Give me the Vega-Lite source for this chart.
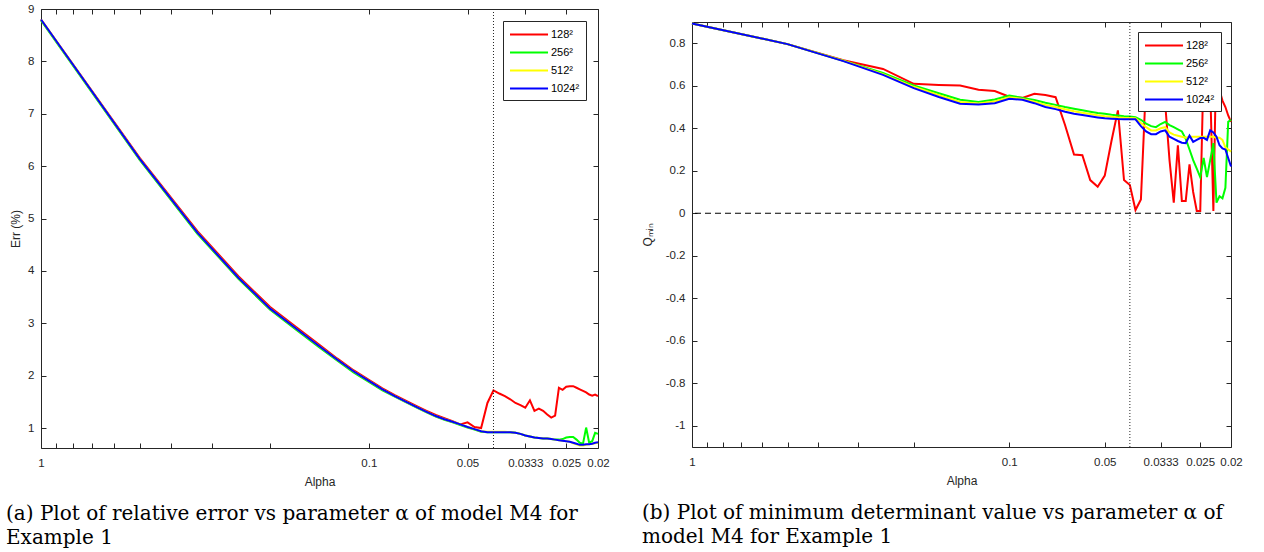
{
  "$schema": "https://vega.github.io/schema/vega-lite/v6.json",
  "background": "white",
  "padding": {"left": 5, "top": 2, "right": 5, "bottom": 0},
  "spacing": 30,
  "datasets": {
    "err": [
      {"alpha": 1, "128²": 8.80, "256²": 8.78, "512²": 8.80, "1024²": 8.80},
      {"alpha": 0.5, "128²": 6.16, "256²": 6.12, "512²": 6.14, "1024²": 6.14},
      {"alpha": 0.33333, "128²": 4.76, "256²": 4.71, "512²": 4.73, "1024²": 4.73},
      {"alpha": 0.25, "128²": 3.90, "256²": 3.85, "512²": 3.87, "1024²": 3.87},
      {"alpha": 0.2, "128²": 3.31, "256²": 3.26, "512²": 3.28, "1024²": 3.28},
      {"alpha": 0.16667, "128²": 2.93, "256²": 2.88, "512²": 2.90, "1024²": 2.90},
      {"alpha": 0.14286, "128²": 2.61, "256²": 2.56, "512²": 2.58, "1024²": 2.58},
      {"alpha": 0.125, "128²": 2.33, "256²": 2.29, "512²": 2.31, "1024²": 2.31},
      {"alpha": 0.11111, "128²": 2.10, "256²": 2.06, "512²": 2.08, "1024²": 2.08},
      {"alpha": 0.1, "128²": 1.92, "256²": 1.88, "512²": 1.90, "1024²": 1.90},
      {"alpha": 0.09091, "128²": 1.76, "256²": 1.72, "512²": 1.74, "1024²": 1.74},
      {"alpha": 0.08333, "128²": 1.63, "256²": 1.60, "512²": 1.61, "1024²": 1.61},
      {"alpha": 0.07692, "128²": 1.52, "256²": 1.49, "512²": 1.50, "1024²": 1.50},
      {"alpha": 0.07143, "128²": 1.42, "256²": 1.39, "512²": 1.40, "1024²": 1.40},
      {"alpha": 0.06667, "128²": 1.33, "256²": 1.30, "512²": 1.31, "1024²": 1.31},
      {"alpha": 0.0625, "128²": 1.25, "256²": 1.22, "512²": 1.23, "1024²": 1.23},
      {"alpha": 0.05882, "128²": 1.19, "256²": 1.16, "512²": 1.17, "1024²": 1.17},
      {"alpha": 0.05556, "128²": 1.13, "256²": 1.11, "512²": 1.12, "1024²": 1.12},
      {"alpha": 0.05263, "128²": 1.07, "256²": 1.06, "512²": 1.07, "1024²": 1.07},
      {"alpha": 0.05, "128²": 1.11, "256²": 1.01, "512²": 1.02, "1024²": 1.02},
      {"alpha": 0.04762, "128²": 1.02, "256²": 0.97, "512²": 0.98, "1024²": 0.98},
      {"alpha": 0.04545, "128²": 1.00, "256²": 0.93, "512²": 0.94, "1024²": 0.94},
      {"alpha": 0.04348, "128²": 1.48, "256²": 0.92, "512²": 0.93, "1024²": 0.92},
      {"alpha": 0.04167, "128²": 1.72, "256²": 0.92, "512²": 0.93, "1024²": 0.92},
      {"alpha": 0.04, "128²": 1.66, "256²": 0.92, "512²": 0.93, "1024²": 0.92},
      {"alpha": 0.03846, "128²": 1.61, "256²": 0.92, "512²": 0.93, "1024²": 0.92},
      {"alpha": 0.03704, "128²": 1.55, "256²": 0.92, "512²": 0.92, "1024²": 0.92},
      {"alpha": 0.03571, "128²": 1.48, "256²": 0.91, "512²": 0.91, "1024²": 0.91},
      {"alpha": 0.03448, "128²": 1.44, "256²": 0.89, "512²": 0.89, "1024²": 0.89},
      {"alpha": 0.03333, "128²": 1.39, "256²": 0.86, "512²": 0.86, "1024²": 0.86},
      {"alpha": 0.03226, "128²": 1.53, "256²": 0.84, "512²": 0.84, "1024²": 0.84},
      {"alpha": 0.03125, "128²": 1.33, "256²": 0.82, "512²": 0.82, "1024²": 0.82},
      {"alpha": 0.0303, "128²": 1.37, "256²": 0.81, "512²": 0.81, "1024²": 0.81},
      {"alpha": 0.02941, "128²": 1.33, "256²": 0.80, "512²": 0.80, "1024²": 0.80},
      {"alpha": 0.02857, "128²": 1.26, "256²": 0.80, "512²": 0.80, "1024²": 0.80},
      {"alpha": 0.02778, "128²": 1.20, "256²": 0.79, "512²": 0.79, "1024²": 0.79},
      {"alpha": 0.02703, "128²": 1.24, "256²": 0.78, "512²": 0.78, "1024²": 0.78},
      {"alpha": 0.02632, "128²": 1.77, "256²": 0.78, "512²": 0.77, "1024²": 0.77},
      {"alpha": 0.02564, "128²": 1.73, "256²": 0.79, "512²": 0.76, "1024²": 0.76},
      {"alpha": 0.025, "128²": 1.79, "256²": 0.82, "512²": 0.75, "1024²": 0.75},
      {"alpha": 0.02439, "128²": 1.80, "256²": 0.83, "512²": 0.74, "1024²": 0.74},
      {"alpha": 0.02381, "128²": 1.80, "256²": 0.83, "512²": 0.71, "1024²": 0.72},
      {"alpha": 0.02326, "128²": 1.77, "256²": 0.78, "512²": 0.69, "1024²": 0.70},
      {"alpha": 0.02273, "128²": 1.74, "256²": 0.72, "512²": 0.67, "1024²": 0.68},
      {"alpha": 0.02222, "128²": 1.71, "256²": 0.70, "512²": 0.67, "1024²": 0.68},
      {"alpha": 0.02174, "128²": 1.68, "256²": 1.01, "512²": 0.68, "1024²": 0.69},
      {"alpha": 0.02128, "128²": 1.64, "256²": 0.72, "512²": 0.69, "1024²": 0.69},
      {"alpha": 0.02083, "128²": 1.62, "256²": 0.75, "512²": 0.70, "1024²": 0.70},
      {"alpha": 0.02041, "128²": 1.64, "256²": 0.91, "512²": 0.71, "1024²": 0.72},
      {"alpha": 0.02, "128²": 1.61, "256²": 0.89, "512²": 0.72, "1024²": 0.73}
    ],
    "qmin": [
      {"alpha": 1, "128²": 0.893, "256²": 0.893, "512²": 0.893, "1024²": 0.893},
      {"alpha": 0.5, "128²": 0.796, "256²": 0.796, "512²": 0.796, "1024²": 0.796},
      {"alpha": 0.33333, "128²": 0.720, "256²": 0.718, "512²": 0.718, "1024²": 0.716},
      {"alpha": 0.25, "128²": 0.679, "256²": 0.660, "512²": 0.655, "1024²": 0.651},
      {"alpha": 0.2, "128²": 0.609, "256²": 0.601, "512²": 0.595, "1024²": 0.589},
      {"alpha": 0.16667, "128²": 0.604, "256²": 0.565, "512²": 0.556, "1024²": 0.547},
      {"alpha": 0.14286, "128²": 0.601, "256²": 0.534, "512²": 0.524, "1024²": 0.515},
      {"alpha": 0.125, "128²": 0.581, "256²": 0.523, "512²": 0.517, "1024²": 0.512},
      {"alpha": 0.11111, "128²": 0.575, "256²": 0.535, "512²": 0.526, "1024²": 0.518},
      {"alpha": 0.1, "128²": 0.548, "256²": 0.554, "512²": 0.546, "1024²": 0.539},
      {"alpha": 0.09091, "128²": 0.543, "256²": 0.543, "512²": 0.538, "1024²": 0.534},
      {"alpha": 0.08333, "128²": 0.562, "256²": 0.533, "512²": 0.525, "1024²": 0.518},
      {"alpha": 0.07692, "128²": 0.556, "256²": 0.520, "512²": 0.510, "1024²": 0.500},
      {"alpha": 0.07143, "128²": 0.546, "256²": 0.510, "512²": 0.500, "1024²": 0.490},
      {"alpha": 0.06667, "128²": 0.414, "256²": 0.500, "512²": 0.489, "1024²": 0.478},
      {"alpha": 0.0625, "128²": 0.276, "256²": 0.492, "512²": 0.480, "1024²": 0.468},
      {"alpha": 0.05882, "128²": 0.273, "256²": 0.485, "512²": 0.473, "1024²": 0.462},
      {"alpha": 0.05556, "128²": 0.156, "256²": 0.478, "512²": 0.467, "1024²": 0.456},
      {"alpha": 0.05263, "128²": 0.125, "256²": 0.472, "512²": 0.461, "1024²": 0.451},
      {"alpha": 0.05, "128²": 0.177, "256²": 0.468, "512²": 0.457, "1024²": 0.447},
      {"alpha": 0.04762, "128²": 0.340, "256²": 0.463, "512²": 0.454, "1024²": 0.445},
      {"alpha": 0.04545, "128²": 0.484, "256²": 0.460, "512²": 0.451, "1024²": 0.443},
      {"alpha": 0.04348, "128²": 0.156, "256²": 0.457, "512²": 0.449, "1024²": 0.442},
      {"alpha": 0.04167, "128²": 0.133, "256²": 0.455, "512²": 0.448, "1024²": 0.442},
      {"alpha": 0.04, "128²": 0.015, "256²": 0.452, "512²": 0.447, "1024²": 0.442},
      {"alpha": 0.03846, "128²": 0.065, "256²": 0.440, "512²": 0.425, "1024²": 0.410},
      {"alpha": 0.03704, "128²": 0.62, "256²": 0.422, "512²": 0.405, "1024²": 0.385},
      {"alpha": 0.03571, "128²": 0.70, "256²": 0.410, "512²": 0.390, "1024²": 0.372},
      {"alpha": 0.03448, "128²": 0.65, "256²": 0.405, "512²": 0.390, "1024²": 0.372},
      {"alpha": 0.03333, "128²": 0.58, "256²": 0.420, "512²": 0.400, "1024²": 0.385},
      {"alpha": 0.03226, "128²": 0.52, "256²": 0.430, "512²": 0.405, "1024²": 0.390},
      {"alpha": 0.03125, "128²": 0.25, "256²": 0.415, "512²": 0.380, "1024²": 0.360},
      {"alpha": 0.0303, "128²": 0.05, "256²": 0.405, "512²": 0.370, "1024²": 0.350},
      {"alpha": 0.02941, "128²": 0.32, "256²": 0.395, "512²": 0.365, "1024²": 0.340},
      {"alpha": 0.02857, "128²": 0.058, "256²": 0.385, "512²": 0.360, "1024²": 0.332},
      {"alpha": 0.02778, "128²": 0.058, "256²": 0.350, "512²": 0.355, "1024²": 0.330},
      {"alpha": 0.02703, "128²": 0.23, "256²": 0.300, "512²": 0.360, "1024²": 0.365},
      {"alpha": 0.02632, "128²": 0.10, "256²": 0.250, "512²": 0.360, "1024²": 0.336},
      {"alpha": 0.02564, "128²": 0.011, "256²": 0.210, "512²": 0.360, "1024²": 0.345},
      {"alpha": 0.025, "128²": 0.011, "256²": 0.170, "512²": 0.360, "1024²": 0.354},
      {"alpha": 0.02439, "128²": 0.70, "256²": 0.260, "512²": 0.360, "1024²": 0.355},
      {"alpha": 0.02381, "128²": 0.75, "256²": 0.170, "512²": 0.360, "1024²": 0.345},
      {"alpha": 0.02326, "128²": 0.60, "256²": 0.250, "512²": 0.360, "1024²": 0.390},
      {"alpha": 0.02273, "128²": 0.011, "256²": 0.330, "512²": 0.360, "1024²": 0.380},
      {"alpha": 0.02222, "128²": 0.80, "256²": 0.050, "512²": 0.355, "1024²": 0.360},
      {"alpha": 0.02174, "128²": 0.58, "256²": 0.080, "512²": 0.355, "1024²": 0.320},
      {"alpha": 0.02128, "128²": 0.53, "256²": 0.070, "512²": 0.345, "1024²": 0.305},
      {"alpha": 0.02083, "128²": 0.50, "256²": 0.120, "512²": 0.310, "1024²": 0.300},
      {"alpha": 0.02041, "128²": 0.46, "256²": 0.430, "512²": 0.300, "1024²": 0.260},
      {"alpha": 0.02, "128²": 0.43, "256²": 0.440, "512²": 0.290, "1024²": 0.220}
    ]
  },
  "config": {
    "view": {"stroke": "#262626", "strokeWidth": 1},
    "axis": {
      "labelFont": "Liberation Sans", "labelFontSize": 11.5, "labelColor": "#262626",
      "titleFont": "Liberation Sans", "titleFontSize": 12, "titleFontWeight": "normal", "titleColor": "#262626",
      "tickColor": "#262626", "tickSize": -5, "domain": false, "grid": false,
      "labelOverlap": false, "labelFlush": false
    },
    "axisBottom": {"labelPadding": 14, "titlePadding": 8},
    "axisLeft": {"labelPadding": 12},
    "legend": {
      "orient": "top-right", "title": null, "symbolType": "M-1,0H4.85", "symbolSize": 169, "symbolStrokeWidth": 2,
      "labelFont": "Liberation Sans", "labelFontSize": 11, "labelColor": "#000000",
      "strokeColor": "#262626", "fillColor": "white", "padding": 6, "rowPadding": 5, "labelOffset": 27
    },
    "title": {"font": "DejaVu Serif", "fontSize": 20, "fontWeight": "normal", "color": "#000000", "anchor": "start", "orient": "bottom", "lineHeight": 24, "frame": "group", "offset": 16}
  },
  "resolve": {"scale": {"color": "independent"}, "legend": {"color": "independent"}},
  "hconcat": [
    {
      "width": 557, "height": 439,
      "title": {"text": ["(a) Plot of relative error vs parameter α of model M4 for", "Example 1"], "dx": -35},
      "data": {"name": "err"},
      "layer": [
        {
          "transform": [{"fold": ["128²", "256²", "512²", "1024²"], "as": ["res", "v"]}],
          "mark": {"type": "line", "strokeWidth": 2},
          "encoding": {
            "x": {"field": "alpha", "type": "quantitative",
              "scale": {"type": "log", "domain": [0.02, 1], "reverse": true, "nice": false, "zero": false},
              "axis": {"orient": "bottom", "title": "Alpha", "values": [1, 0.9, 0.8, 0.7, 0.6, 0.5, 0.4, 0.3, 0.2, 0.1, 0.05, 0.03333, 0.025, 0.02],
                "labelExpr": "datum.value == 1 ? '1' : datum.value == 0.1 ? '0.1' : datum.value == 0.05 ? '0.05' : datum.value == 0.03333 ? '0.0333' : datum.value == 0.025 ? '0.025' : datum.value == 0.02 ? '0.02' : ''"}},
            "y": {"field": "v", "type": "quantitative",
              "scale": {"domain": [0.62, 9], "nice": false, "zero": false},
              "axis": {"orient": "left", "title": "Err (%)", "titlePadding": 5, "values": [1, 2, 3, 4, 5, 6, 7, 8, 9], "format": "d"}},
            "color": {"field": "res", "type": "nominal",
              "scale": {"domain": ["128²", "256²", "512²", "1024²"], "range": ["#ff0000", "#00ff00", "#ffff00", "#0000ff"]},
              "legend": {"offset": 12}}
          }
        },
        {
          "data": {"values": [{}]},
          "mark": {"type": "rule", "strokeDash": [1, 2], "color": "#262626", "strokeWidth": 1},
          "encoding": {
            "x": {"datum": 0.04167, "type": "quantitative",
              "scale": {"type": "log", "domain": [0.02, 1], "reverse": true, "nice": false, "zero": false},
              "axis": {"orient": "top", "labels": false, "title": null, "values": [1, 0.9, 0.8, 0.7, 0.6, 0.5, 0.4, 0.3, 0.2, 0.1, 0.05, 0.03333, 0.025, 0.02]}},
            "y": {"datum": 0.62, "type": "quantitative",
              "scale": {"domain": [0.62, 9], "nice": false, "zero": false},
              "axis": {"orient": "right", "labels": false, "title": null, "values": [1, 2, 3, 4, 5, 6, 7, 8, 9]}},
            "y2": {"datum": 9}
          }
        }
      ],
      "resolve": {"scale": {"x": "independent", "y": "independent"}}
    },
    {
      "spacing": 0,
      "resolve": {"scale": {"color": "independent"}, "legend": {"color": "independent"}},
      "vconcat": [
        {
          "width": 539, "height": 9,
          "data": {"values": [{}]},
          "mark": {"type": "point", "opacity": 0},
          "view": {"stroke": null}
        },
        {
          "width": 539, "height": 425,
          "title": {"text": ["(b) Plot of minimum determinant value vs parameter α of", "model M4 for Example 1"], "dx": -50},
          "data": {"name": "qmin"},
          "layer": [
            {
              "data": {"values": [{}]},
              "mark": {"type": "rule", "strokeDash": [6, 4], "color": "#000000", "strokeWidth": 1},
              "encoding": {
                "y": {"datum": 0, "type": "quantitative", "scale": {"domain": [-1.1, 0.9], "nice": false, "zero": false}, "axis": null}
              }
            },
            {
              "transform": [{"fold": ["128²", "256²", "512²", "1024²"], "as": ["res", "v"]}],
              "mark": {"type": "line", "strokeWidth": 2},
              "encoding": {
                "x": {"field": "alpha", "type": "quantitative",
                  "scale": {"type": "log", "domain": [0.02, 1], "reverse": true, "nice": false, "zero": false},
                  "axis": {"orient": "bottom", "title": "Alpha", "values": [1, 0.9, 0.8, 0.7, 0.6, 0.5, 0.4, 0.3, 0.2, 0.1, 0.05, 0.03333, 0.025, 0.02],
                    "labelExpr": "datum.value == 1 ? '1' : datum.value == 0.1 ? '0.1' : datum.value == 0.05 ? '0.05' : datum.value == 0.03333 ? '0.0333' : datum.value == 0.025 ? '0.025' : datum.value == 0.02 ? '0.02' : ''"}},
                "y": {"field": "v", "type": "quantitative",
                  "scale": {"domain": [-1.1, 0.9], "nice": false, "zero": false},
                  "axis": {"orient": "left", "title": "Qₘᵢₙ", "titlePadding": 11, "values": [-1, -0.8, -0.6, -0.4, -0.2, 0, 0.2, 0.4, 0.6, 0.8],
                    "format": ".1~f", "labelExpr": "replace(datum.label, '−', '-')"}},
                "color": {"field": "res", "type": "nominal",
                  "scale": {"domain": ["128²", "256²", "512²", "1024²"], "range": ["#ff0000", "#00ff00", "#ffff00", "#0000ff"]},
                  "legend": {"offset": 10}}
              }
            },
            {
              "data": {"values": [{}]},
              "mark": {"type": "rule", "strokeDash": [1, 2], "color": "#262626", "strokeWidth": 1},
              "encoding": {
                "x": {"datum": 0.04167, "type": "quantitative",
                  "scale": {"type": "log", "domain": [0.02, 1], "reverse": true, "nice": false, "zero": false},
                  "axis": {"orient": "top", "labels": false, "title": null, "values": [1, 0.9, 0.8, 0.7, 0.6, 0.5, 0.4, 0.3, 0.2, 0.1, 0.05, 0.03333, 0.025, 0.02]}},
                "y": {"datum": -1.1, "type": "quantitative",
                  "scale": {"domain": [-1.1, 0.9], "nice": false, "zero": false},
                  "axis": {"orient": "right", "labels": false, "title": null, "values": [-1, -0.8, -0.6, -0.4, -0.2, 0, 0.2, 0.4, 0.6, 0.8]}},
                "y2": {"datum": 0.9}
              }
            }
          ],
          "resolve": {"scale": {"x": "independent", "y": "independent"}}
        }
      ]
    }
  ]
}
